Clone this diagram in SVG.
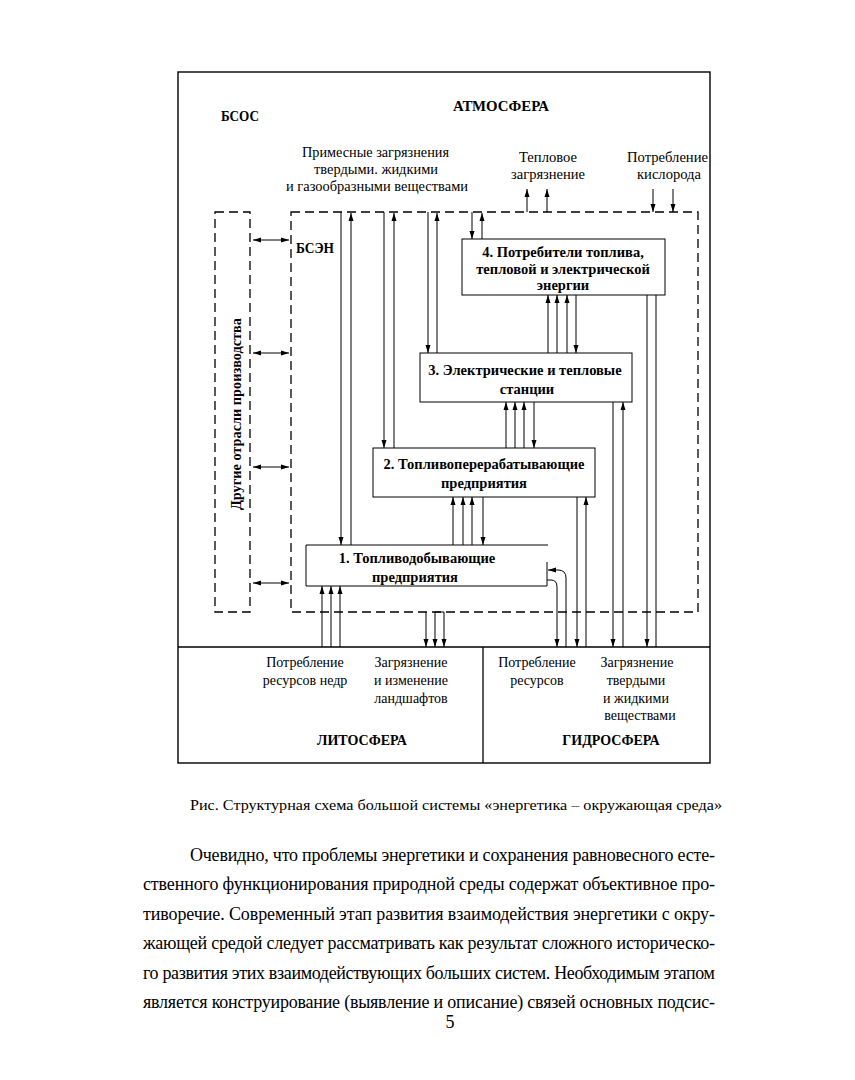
<svg xmlns="http://www.w3.org/2000/svg" width="855" height="1080" viewBox="0 0 855 1080">
<style>
.t{font-family:"Liberation Serif","DejaVu Serif",serif;font-size:14px;fill:#000}
.b{font-weight:bold}
.bx{font-size:14.5px}
.p{font-family:"Liberation Serif","DejaVu Serif",serif;font-size:18px;fill:#000}
.ln{stroke:#000;stroke-width:1;fill:none}
.a{stroke:#000;stroke-width:1;fill:none;marker-end:url(#ah)}
.aa{stroke:#000;stroke-width:1;fill:none;marker-start:url(#ah);marker-end:url(#ah)}
.dash{stroke:#000;stroke-width:1.3;stroke-dasharray:9 5;fill:none}
.box{fill:#fff;stroke:#000;stroke-width:1}
.frame{fill:none;stroke:#000;stroke-width:1.4}
</style>
<defs>
<marker id="ah" markerUnits="userSpaceOnUse" markerWidth="8" markerHeight="6" refX="8" refY="3" orient="auto-start-reverse">
<path d="M0,0.5 L8,3 L0,5.5 Z" fill="#000"/>
</marker>
</defs>
<rect width="855" height="1080" fill="#fff"/>

<g id="frame">
<rect class="frame" x="178" y="72" width="532" height="691"/>
<line class="ln" x1="178" y1="647" x2="710" y2="647" style="stroke-width:1.3"/>
<line class="ln" x1="483" y1="647" x2="483" y2="763" style="stroke-width:1.3"/>
</g>

<g id="atmosphere">
<text class="t b" x="221" y="121" textLength="38" lengthAdjust="spacingAndGlyphs">БСОС</text>
<text class="t b" x="453" y="111" textLength="96" lengthAdjust="spacingAndGlyphs">АТМОСФЕРА</text>
<text class="t" x="302" y="157" textLength="147" lengthAdjust="spacingAndGlyphs">Примесные загрязнения</text>
<text class="t" x="314" y="174" textLength="124" lengthAdjust="spacingAndGlyphs">твердыми. жидкими</text>
<text class="t" x="286" y="191" textLength="182" lengthAdjust="spacingAndGlyphs">и газообразными веществами</text>
<text class="t" x="519" y="162" textLength="58" lengthAdjust="spacingAndGlyphs">Тепловое</text>
<text class="t" x="511" y="179" textLength="74" lengthAdjust="spacingAndGlyphs">загрязнение</text>
<text class="t" x="627" y="162" textLength="81" lengthAdjust="spacingAndGlyphs">Потребление</text>
<text class="t" x="637" y="179" textLength="64" lengthAdjust="spacingAndGlyphs">кислорода</text>
</g>

<g id="lithosphere">
<text class="t" x="305" y="667" text-anchor="middle">Потребление</text>
<text class="t" x="305" y="685" text-anchor="middle">ресурсов недр</text>
<text class="t" x="411" y="667" text-anchor="middle">Загрязнение</text>
<text class="t" x="411" y="685" text-anchor="middle">и изменение</text>
<text class="t" x="411" y="703" text-anchor="middle">ландшафтов</text>
<text class="t b" x="362" y="745" text-anchor="middle">ЛИТОСФЕРА</text>
</g>

<g id="hydrosphere">
<text class="t" x="537" y="667" text-anchor="middle">Потребление</text>
<text class="t" x="537" y="685" text-anchor="middle">ресурсов</text>
<text class="t" x="637" y="667" text-anchor="middle">Загрязнение</text>
<text class="t" x="636" y="685" text-anchor="middle">твердыми</text>
<text class="t" x="636" y="703" text-anchor="middle">и жидкими</text>
<text class="t" x="640" y="720" text-anchor="middle">веществами</text>
<text class="t b" x="611" y="745" text-anchor="middle">ГИДРОСФЕРА</text>
</g>

<g id="other-industries">
<rect class="dash" x="215" y="212" width="35" height="400"/>
<text class="t b" transform="translate(241,414) rotate(-90)" text-anchor="middle" textLength="192" lengthAdjust="spacingAndGlyphs">Другие отрасли производства</text>
</g>

<g id="bsen">
<rect class="dash" x="291" y="212" width="407" height="400"/>
<text class="t b" x="296" y="253" textLength="38" lengthAdjust="spacingAndGlyphs">БСЭН</text>
</g>

<g id="connectors">
<line class="aa" x1="253" y1="240" x2="289" y2="240"/>
<line class="aa" x1="253" y1="353" x2="289" y2="353"/>
<line class="aa" x1="253" y1="467" x2="289" y2="467"/>
<line class="aa" x1="253" y1="583" x2="289" y2="583"/>
<line class="a" x1="527" y1="212" x2="527" y2="189"/>
<line class="a" x1="547" y1="212" x2="547" y2="189"/>
<line class="a" x1="653" y1="189" x2="653" y2="212"/>
<line class="a" x1="673" y1="189" x2="673" y2="212"/>
<line class="a" x1="341" y1="212" x2="341" y2="545"/>
<line class="a" x1="351" y1="545" x2="351" y2="213"/>
<line class="a" x1="384" y1="212" x2="384" y2="448"/>
<line class="a" x1="394" y1="448" x2="394" y2="213"/>
<line class="a" x1="428" y1="212" x2="428" y2="353"/>
<line class="a" x1="437" y1="353" x2="437" y2="213"/>
<line class="a" x1="472" y1="212" x2="472" y2="239"/>
<line class="a" x1="482" y1="239" x2="482" y2="213"/>
<line class="a" x1="548" y1="353" x2="548" y2="295"/>
<line class="a" x1="557" y1="353" x2="557" y2="295"/>
<line class="a" x1="567" y1="353" x2="567" y2="295"/>
<line class="a" x1="576" y1="295" x2="576" y2="353"/>
<line class="a" x1="506" y1="448" x2="506" y2="402"/>
<line class="a" x1="515" y1="448" x2="515" y2="402"/>
<line class="a" x1="524" y1="448" x2="524" y2="402"/>
<line class="a" x1="534" y1="402" x2="534" y2="448"/>
<line class="a" x1="453" y1="545" x2="453" y2="497"/>
<line class="a" x1="463" y1="545" x2="463" y2="497"/>
<line class="a" x1="472" y1="545" x2="472" y2="497"/>
<line class="a" x1="483" y1="497" x2="483" y2="545"/>
<line class="a" x1="322" y1="647" x2="322" y2="586"/>
<line class="a" x1="331" y1="647" x2="331" y2="586"/>
<line class="a" x1="340" y1="647" x2="340" y2="586"/>
<line class="a" x1="426" y1="612" x2="426" y2="647"/>
<line class="a" x1="435" y1="612" x2="435" y2="647"/>
<line class="a" x1="444" y1="612" x2="444" y2="647"/>
<line class="ln" x1="435" y1="612" x2="444" y2="612"/>
<path class="a" d="M547,580 H551 Q557,580 557,587 V647"/>
<path class="a" d="M566,647 V578 Q566,570 558,570 H548"/>
<line class="a" x1="577" y1="497" x2="577" y2="647"/>
<line class="a" x1="586" y1="647" x2="586" y2="497"/>
<line class="a" x1="613" y1="402" x2="613" y2="647"/>
<line class="a" x1="623" y1="647" x2="623" y2="402"/>
<line class="a" x1="647" y1="295" x2="647" y2="647"/>
<line class="ln" x1="656" y1="295" x2="656" y2="647"/>
</g>

<g id="box4">
<rect class="box" x="462" y="239" width="203" height="56"/>
<text class="t b bx" x="563" y="257" text-anchor="middle">4. Потребители топлива,</text>
<text class="t b bx" x="563" y="274" text-anchor="middle">тепловой и электрической</text>
<text class="t b bx" x="563" y="290" text-anchor="middle">энергии</text>
</g>

<g id="box3">
<rect class="box" x="420" y="353" width="212" height="49"/>
<text class="t b bx" x="525" y="375" text-anchor="middle">3. Электрические и тепловые</text>
<text class="t b bx" x="527" y="394" text-anchor="middle">станции</text>
</g>

<g id="box2">
<rect class="box" x="373" y="448" width="222" height="49"/>
<text class="t b bx" x="484" y="469" text-anchor="middle">2. Топливоперерабатывающие</text>
<text class="t b bx" x="484" y="488" text-anchor="middle">предприятия</text>
</g>

<g id="box1">
<path d="M548,545 H306 V586 H547 V562" fill="#fff" stroke="#000" stroke-width="1"/>
<text class="t b bx" x="417" y="563" text-anchor="middle">1. Топливодобывающие</text>
<text class="t b bx" x="415" y="582" text-anchor="middle">предприятия</text>
</g>

<g id="caption">
<text class="t" x="190" y="810" textLength="532" lengthAdjust="spacingAndGlyphs">Рис. Структурная схема большой системы «энергетика – окружающая среда»</text>
</g>

<g id="paragraph">
<text class="p" x="190" y="861" textLength="525">Очевидно, что проблемы энергетики и сохранения равновесного есте-</text>
<text class="p" x="143" y="890" textLength="572">ственного функционирования природной среды содержат объективное про-</text>
<text class="p" x="143" y="920" textLength="572">тиворечие. Современный этап развития взаимодействия энергетики с окру-</text>
<text class="p" x="143" y="949" textLength="572">жающей средой следует рассматривать как результат сложного историческо-</text>
<text class="p" x="143" y="979" textLength="572">го развития этих взаимодействующих больших систем. Необходимым этапом</text>
<text class="p" x="143" y="1008" textLength="572">является конструирование (выявление и описание) связей основных подсис-</text>
<text class="p" x="450" y="1028" text-anchor="middle">5</text>
</g>
</svg>
